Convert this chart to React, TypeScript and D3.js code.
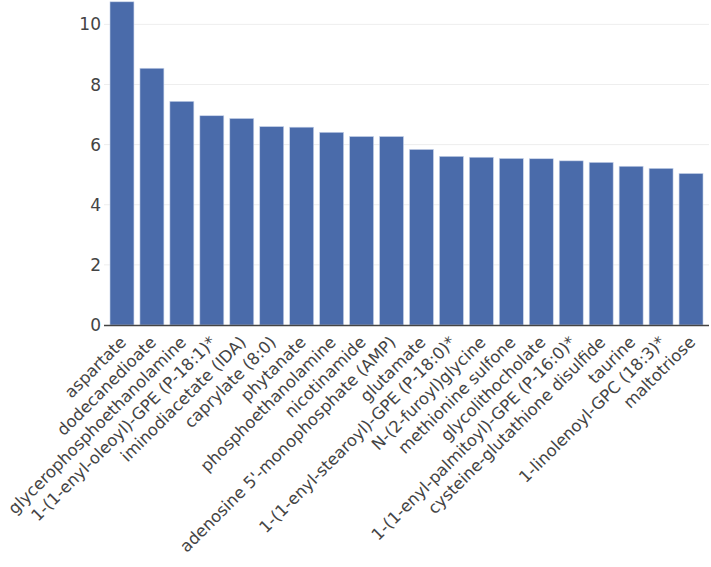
import React, { useEffect, useRef } from 'react';
import * as d3 from 'd3';

const categories = [
  'aspartate',
  'dodecanedioate',
  'glycerophosphoethanolamine',
  '1-(1-enyl-oleoyl)-GPE (P-18:1)*',
  'iminodiacetate (IDA)',
  'caprylate (8:0)',
  'phytanate',
  'phosphoethanolamine',
  'nicotinamide',
  "adenosine 5'-monophosphate (AMP)",
  'glutamate',
  '1-(1-enyl-stearoyl)-GPE (P-18:0)*',
  'N-(2-furoyl)glycine',
  'methionine sulfone',
  'glycolithocholate',
  '1-(1-enyl-palmitoyl)-GPE (P-16:0)*',
  'cysteine-glutathione disulfide',
  'taurine',
  '1-linolenoyl-GPC (18:3)*',
  'maltotriose',
];

const values = [
  10.75, 8.54, 7.44, 6.96, 6.87, 6.6, 6.58, 6.41, 6.27, 6.27,
  5.84, 5.61, 5.58, 5.54, 5.53, 5.46, 5.41, 5.28, 5.21, 5.04,
];

const yTicks = [0, 2, 4, 6, 8, 10];

const W = 711;
const H = 567;
const margin = { top: 0, right: 2, bottom: 242, left: 104 };

const BarChart = () => {
  const ref = useRef<SVGSVGElement>(null);

  useEffect(() => {
    const svg = d3.select(ref.current);
    svg.selectAll('*').remove();

    const font = '"DejaVu Sans", Verdana, sans-serif';
    const innerH = H - margin.top - margin.bottom;

    const x = d3.scaleBand()
      .domain(categories)
      .range([margin.left, W - margin.right])
      .padding(0.2);

    const y = d3.scaleLinear()
      .domain([0, 10.81])
      .range([margin.top + innerH, margin.top]);

    // grid
    svg.append('g')
      .selectAll('line')
      .data(yTicks.filter(d => d > 0))
      .enter().append('line')
      .attr('x1', margin.left)
      .attr('x2', W - margin.right)
      .attr('y1', d => y(d))
      .attr('y2', d => y(d))
      .attr('stroke', '#eeeeee')
      .attr('stroke-width', 1);

    // y tick labels
    svg.append('g')
      .selectAll('text')
      .data(yTicks)
      .enter().append('text')
      .attr('x', margin.left - 3)
      .attr('y', d => y(d))
      .attr('dy', '0.36em')
      .attr('text-anchor', 'end')
      .attr('font-family', font)
      .attr('font-size', 17)
      .attr('fill', '#444')
      .text(d => d);

    // bars
    svg.append('g')
      .selectAll('rect')
      .data(values)
      .enter().append('rect')
      .attr('x', (d, i) => x(categories[i]) as number)
      .attr('width', x.bandwidth())
      .attr('y', d => y(d))
      .attr('height', d => y(0) - y(d))
      .attr('fill', '#4a6baa')
      .attr('stroke', '#c9d4ea')
      .attr('stroke-width', 0.6);

    // x axis line
    svg.append('line')
      .attr('x1', margin.left)
      .attr('x2', W - margin.right)
      .attr('y1', y(0) + 0.5)
      .attr('y2', y(0) + 0.5)
      .attr('stroke', '#444')
      .attr('stroke-width', 1.5);

    // x tick labels
    svg.append('g')
      .selectAll('text')
      .data(categories)
      .enter().append('text')
      .attr('transform', d => `translate(${(x(d) as number) + x.bandwidth() / 2 - 3},${y(0) + 10}) rotate(-45)`)
      .attr('text-anchor', 'end')
      .attr('dy', '0.71em')
      .attr('font-family', font)
      .attr('font-size', 16.4)
      .attr('fill', '#444')
      .text(d => d);
  }, []);

  return (
    <svg
      ref={ref}
      width={W}
      height={H}
      style={{ position: 'absolute', left: 0, top: 0, background: '#fff' }}
    />
  );
};

export default function App() {
  return <BarChart />;
}
